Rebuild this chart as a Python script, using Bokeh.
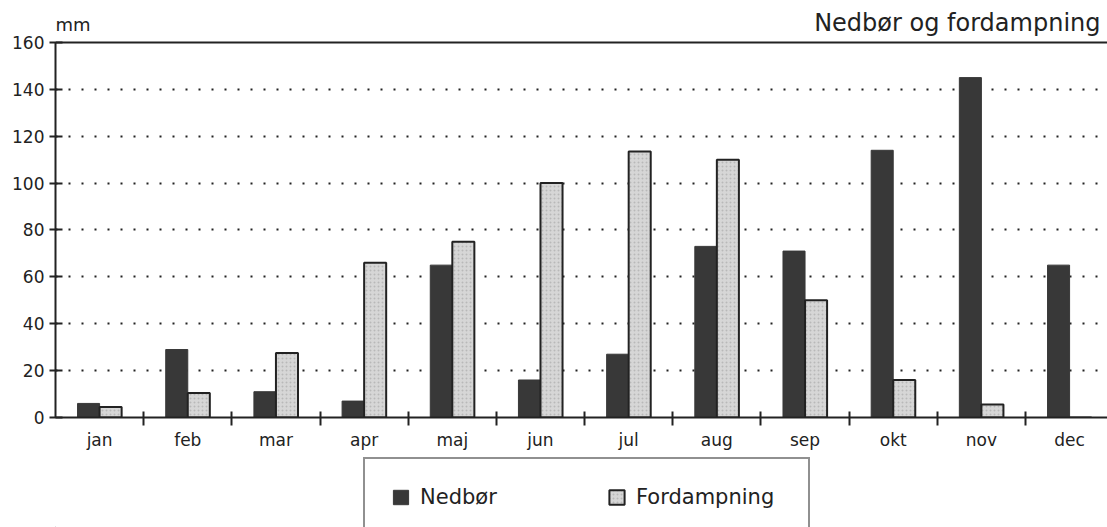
import numpy as np
from bokeh.plotting import figure
from bokeh.layouts import column
from bokeh.models import (Range1d, LinearAxis, FixedTicker, Label, Legend, LegendItem,
                          ColumnDataSource, Span)
from bokeh.embed import file_html
from bokeh.resources import INLINE

months = ["jan", "feb", "mar", "apr", "maj", "jun", "jul", "aug", "sep", "okt", "nov", "dec"]
nedbor = [6, 29, 11, 7, 65, 16, 27, 73, 71, 114, 145, 65]
fordampning = [4.5, 10.5, 27.5, 66, 75, 100, 113.5, 110, 50, 16, 5.5, 0]
y_ticks = [0, 20, 40, 60, 80, 100, 120, 140, 160]
series_names = ["Nedbør", "Fordampning"]

FONT = "DejaVu Sans"
DARK = "#383838"
LIGHT = "#d6d6d6"
INK = "#222222"

n = len(months)
idx = np.arange(n)
x_end = 11.93      # visible part of the category axis (right side cropped)
y_top = 160
y_view = 177.9     # room above the chart for the unit and the heading

src = ColumnDataSource(dict(
    xd=idx + 0.375, xl=idx + 0.625, ned=nedbor, ford=fordampning, m=months))

p = figure(width=1107, height=457, output_backend="svg", toolbar_location=None,
           x_range=Range1d(0, x_end), y_range=Range1d(0, y_view),
           x_axis_type=None, min_border_left=55, min_border_right=0,
           min_border_top=0, min_border_bottom=40)
p.outline_line_color = None
p.background_fill_color = "white"
p.border_fill_color = "white"

p.vbar(x="xd", top="ned", width=0.25, source=src, fill_color=DARK, line_color=DARK, line_width=1)
p.vbar(x="xl", top="ford", width=0.25, source=src, fill_color=LIGHT, line_color=INK, line_width=2,
       hatch_pattern="dot", hatch_color="#9a9a9a", hatch_scale=4, hatch_alpha=0.5)

# y axis
ya = p.yaxis[0]
ya.ticker = FixedTicker(ticks=y_ticks)
ya.bounds = (0, y_top)
ya.major_tick_in = 7
ya.major_tick_out = 6
ya.minor_tick_line_color = None
ya.axis_line_width = 2
ya.axis_line_color = INK
ya.major_tick_line_width = 2
ya.major_tick_line_color = INK
ya.major_label_text_font = FONT
ya.major_label_text_font_size = "17px"
ya.major_label_text_color = INK
ya.major_label_standoff = 5

# grid
p.xgrid.grid_line_color = None
p.ygrid.ticker = FixedTicker(ticks=y_ticks[1:-1])
p.ygrid.grid_line_color = INK
p.ygrid.grid_line_dash = "2 11"
p.ygrid.grid_line_width = 2

# top border line
p.add_layout(Span(location=y_top, dimension="width", line_color=INK, line_width=2))

# x axis with ticks at category boundaries
xa1 = LinearAxis(ticker=FixedTicker(ticks=list(range(1, n))),
                 major_tick_in=6, major_tick_out=8, minor_tick_line_color=None,
                 axis_line_width=2, axis_line_color=INK, major_tick_line_width=2,
                 major_tick_line_color=INK, major_label_text_font_size="0px",
                 major_label_standoff=0)
p.add_layout(xa1, "below")
# month labels at category centres
centers = [i + 0.5 for i in range(n)]
xa2 = LinearAxis(ticker=FixedTicker(ticks=centers),
                 major_label_overrides={c: m for c, m in zip(centers, months)},
                 axis_line_color=None, major_tick_line_color=None, minor_tick_line_color=None,
                 major_label_text_font=FONT, major_label_text_font_size="17px",
                 major_label_text_color=INK, major_label_standoff=-2)
p.add_layout(xa2, "below")

# texts
p.add_layout(Label(x=0, y=y_top, text="mm", y_offset=18, text_baseline="alphabetic",
                   text_font=FONT, text_font_size="18px", text_color=INK))
p.add_layout(Label(x=x_end, y=y_top, text="Nedbør og fordampning", x_offset=-7, y_offset=19,
                   text_align="right", text_baseline="alphabetic",
                   text_font=FONT, text_font_size="24px", text_color=INK))

# legend strip below the chart
lg = figure(width=1107, height=70, output_backend="svg", toolbar_location=None,
            x_range=Range1d(0, 1), y_range=Range1d(0, 1),
            x_axis_type=None, y_axis_type=None,
            min_border_left=0, min_border_right=0, min_border_top=0, min_border_bottom=0)
lg.outline_line_color = None
lg.grid.grid_line_color = None
# key swatches only: a single point kept outside the visible range
key = ColumnDataSource(dict(x=[-10.0], top=[0.0]))
k1 = lg.vbar(x="x", top="top", width=0.1, source=key, fill_color=DARK, line_color=DARK, line_width=1)
k2 = lg.vbar(x="x", top="top", width=0.1, source=key, fill_color=LIGHT, line_color=INK, line_width=2,
             hatch_pattern="dot", hatch_color="#9a9a9a", hatch_scale=4, hatch_alpha=0.5)

legend = Legend(items=[LegendItem(label=series_names[0], renderers=[k1]),
                       LegendItem(label=series_names[1], renderers=[k2])],
                orientation="horizontal", location=(308, -10),
                padding=26, margin=0, spacing=41, glyph_width=19, glyph_height=18,
                label_width=146, label_standoff=10,
                label_text_font=FONT, label_text_font_size="21px", label_text_color=INK,
                border_line_color=INK, border_line_width=2, background_fill_alpha=1)
lg.add_layout(legend, "center")

page = column(p, lg, spacing=0)
open("out.html", "w").write(file_html(page, INLINE))
